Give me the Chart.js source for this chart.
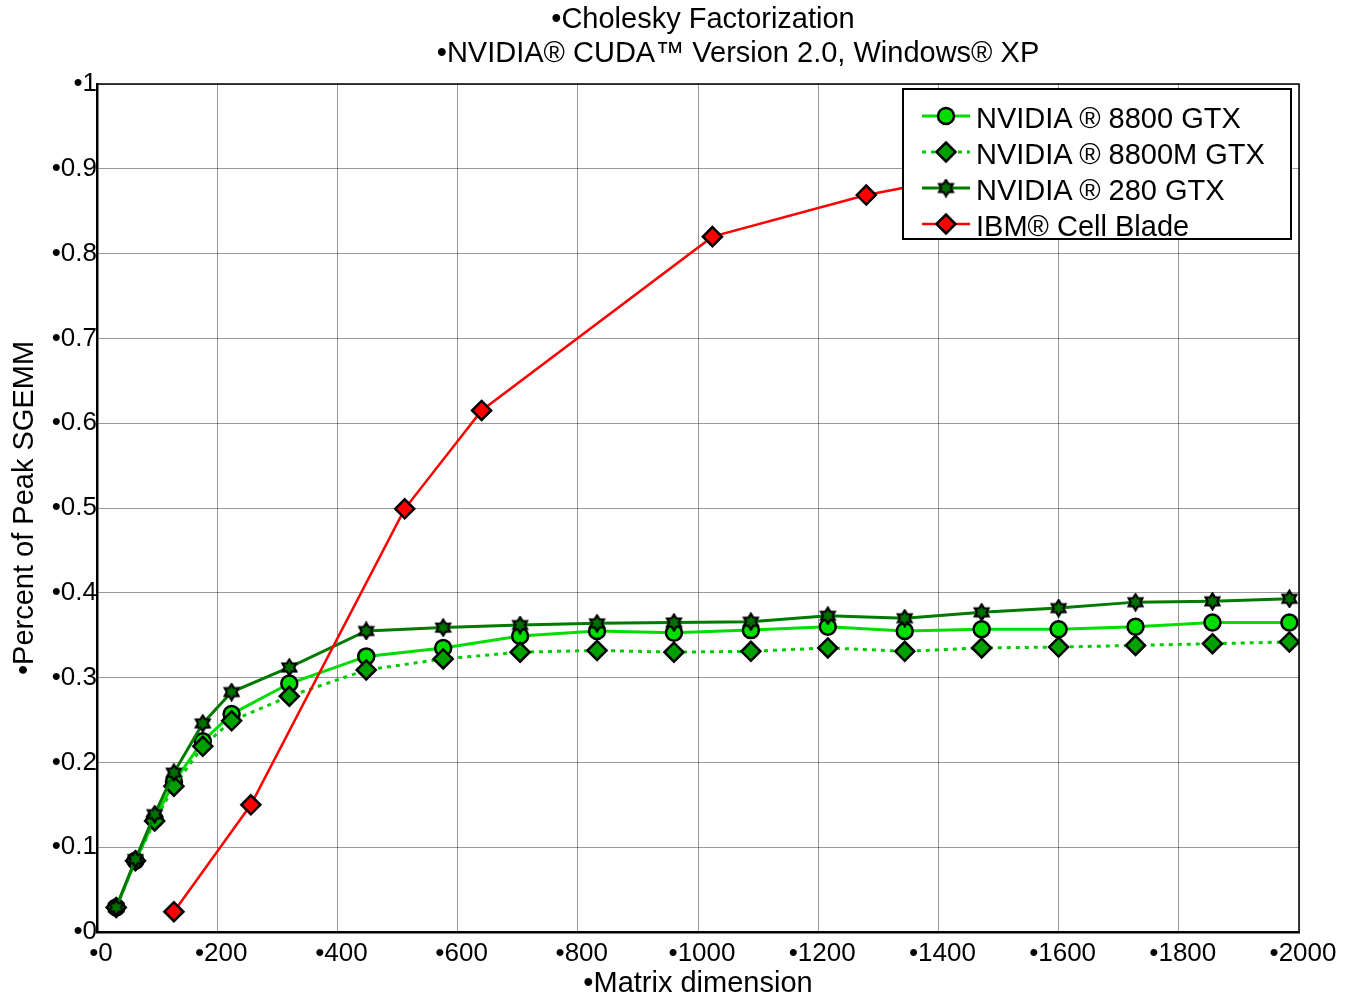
<!DOCTYPE html>
<html>
<head>
<meta charset="utf-8">
<script src="https://cdn.jsdelivr.net/npm/chart.js@4.4.0/dist/chart.umd.min.js"></script>
<style>
  body { margin: 0; background: #fff; }
  #wrap { position: relative; width: 1350px; height: 998px; }
  #legend { position: absolute; left: 902px; top: 88px; width: 390px; height: 152px; box-sizing: border-box;
            border: 2px solid #000; background: #fff; padding-top: 8px; }
  .row { display: flex; align-items: center; height: 36px; }
  .row canvas { margin-left: 16px; }
  .row span { margin-left: 4px; padding-top: 4px; font: 29px "Liberation Sans", Arial, sans-serif; color: #000; white-space: nowrap; }
</style>
</head>
<body>
<div id="wrap">
  <canvas id="chart" width="1350" height="998"></canvas>
  <div id="legend"></div>
</div>
<script>
const titleLines = ['•Cholesky Factorization', '•NVIDIA® CUDA™ Version 2.0, Windows® XP'];
const xTitle = '•Matrix dimension';
const yTitle = '•Percent of Peak SGEMM';
const seriesNames = ['NVIDIA ® 8800 GTX', 'NVIDIA ® 8800M GTX', 'NVIDIA ® 280 GTX', 'IBM® Cell Blade'];

const gpuSizes = [32, 64, 96, 128, 176, 224, 320, 448, 576, 704, 832, 960, 1088, 1216, 1344, 1472, 1600, 1728, 1856, 1984];
const gtx8800  = [0.029, 0.084, 0.133, 0.177, 0.225, 0.257, 0.293, 0.325, 0.335, 0.349, 0.355, 0.353, 0.356, 0.360, 0.355, 0.357, 0.357, 0.360, 0.365, 0.365];
const gtx8800m = [0.029, 0.084, 0.131, 0.172, 0.219, 0.249, 0.278, 0.309, 0.322, 0.330, 0.332, 0.330, 0.331, 0.335, 0.331, 0.335, 0.336, 0.338, 0.340, 0.342];
const gtx280   = [0.029, 0.086, 0.139, 0.188, 0.246, 0.283, 0.312, 0.355, 0.359, 0.362, 0.364, 0.365, 0.366, 0.373, 0.370, 0.377, 0.382, 0.389, 0.390, 0.393];
const cellSizes = [128, 256, 512, 640, 1024, 1280, 1536];
const cellBlade = [0.024, 0.150, 0.499, 0.615, 0.820, 0.869, 0.904];

const FONT = '"Liberation Sans", Arial, sans-serif';

function pts(xs, ys) { return xs.map((x, i) => ({ x: x, y: ys[i] })); }

// six point star marker used for the 280 GTX
function starCanvas(size, fill) {
  const c = document.createElement('canvas');
  c.width = c.height = size;
  const ctx = c.getContext('2d');
  const R = size / 2 - 1.5, r = R * 0.6, m = size / 2;
  ctx.beginPath();
  for (let i = 0; i < 12; i++) {
    const a = -Math.PI / 2 + i * Math.PI / 6;
    const rr = i % 2 ? r : R;
    ctx.lineTo(m + rr * Math.cos(a), m + rr * Math.sin(a));
  }
  ctx.closePath();
  ctx.fillStyle = fill; ctx.fill();
  ctx.lineWidth = 2.2; ctx.strokeStyle = '#000'; ctx.stroke();
  return c;
}

const star = starCanvas(19, '#007000');

const styles = [
  { color: '#00dd00', fill: '#00dd00', shape: 'circle', radius: 8, width: 3, dash: [] },
  { color: '#00cc00', fill: '#00a000', shape: 'rectRot', radius: 9.5, width: 3, dash: [4, 5] },
  { color: '#007a00', fill: '#007000', shape: star, radius: 8, width: 3, dash: [] },
  { color: '#ff0000', fill: '#ff0000', shape: 'rectRot', radius: 9.5, width: 2.5, dash: [] }
];
const seriesData = [pts(gpuSizes, gtx8800), pts(gpuSizes, gtx8800m), pts(gpuSizes, gtx280), pts(cellSizes, cellBlade)];
const drawOrder = [3, 2, 1, 0];

const datasets = seriesNames.map((name, i) => ({
  label: name,
  data: seriesData[i],
  borderColor: styles[i].color,
  borderWidth: styles[i].width,
  borderDash: styles[i].dash,
  pointStyle: styles[i].shape,
  pointRadius: styles[i].radius,
  pointBackgroundColor: styles[i].fill,
  pointBorderColor: '#000',
  pointBorderWidth: 2.5,
  tension: 0,
  order: drawOrder[i]
}));

const frame = {
  id: 'frame',
  beforeDatasetsDraw(chart) {
    const a = chart.chartArea, ctx = chart.ctx;
    ctx.save();
    ctx.strokeStyle = '#000';
    ctx.lineWidth = 1.5;
    ctx.beginPath();
    ctx.moveTo(a.left, a.top); ctx.lineTo(a.right, a.top); ctx.lineTo(a.right, a.bottom);
    ctx.stroke();
    ctx.restore();
  }
};

const headings = {
  id: 'headings',
  afterDraw(chart) {
    const ctx = chart.ctx;
    ctx.save();
    ctx.font = '29px ' + FONT;
    ctx.fillStyle = '#000';
    ctx.textAlign = 'center';
    ctx.textBaseline = 'middle';
    ctx.fillText(titleLines[0], 703, 20);
    ctx.fillText(titleLines[1], 738, 54);
    ctx.restore();
  }
};

const config = {
  type: 'line',
  data: { datasets: datasets },
  options: {
    responsive: false,
    animation: false,
    layout: { padding: { top: 84, right: 51, left: 0, bottom: 0 } },
    plugins: { legend: { display: false }, tooltip: { enabled: false } },
    scales: {
      x: {
        type: 'linear', min: 0, max: 2000,
        ticks: { stepSize: 200, padding: 6, labelOffset: 4, color: '#000', font: { family: FONT, size: 26 },
                 callback: v => '•' + v },
        grid: { color: 'rgba(0,0,0,0.4)', drawTicks: false },
        border: { color: '#000', width: 2.5 },
        title: { display: true, text: xTitle, color: '#000', font: { family: FONT, size: 29, lineHeight: 1 }, padding: 0 },
        afterFit(scale) { scale.height = 66; }
      },
      y: {
        min: 0, max: 1,
        ticks: { stepSize: 0.1, padding: 0, color: '#000', font: { family: FONT, size: 26 },
                 callback: v => '•' + Number(v.toFixed(1)) },
        grid: { color: 'rgba(0,0,0,0.4)', drawTicks: false },
        border: { color: '#000', width: 2.5 },
        title: { display: true, text: yTitle, color: '#000', font: { family: FONT, size: 29 }, padding: { top: 8, bottom: 0 } },
        afterFit(scale) { scale.width = 97; }
      }
    }
  },
  plugins: [frame, headings]
};

new Chart(document.getElementById('chart'), config);

// legend drawn inside the plot, as in the original figure
const legend = document.getElementById('legend');
seriesNames.forEach((name, i) => {
  const s = styles[i];
  const row = document.createElement('div');
  row.className = 'row';
  const c = document.createElement('canvas');
  c.width = 52; c.height = 36;
  const ctx = c.getContext('2d');
  ctx.strokeStyle = s.color; ctx.lineWidth = s.width; ctx.setLineDash(s.dash);
  ctx.beginPath(); ctx.moveTo(2, 18); ctx.lineTo(50, 18); ctx.stroke();
  ctx.setLineDash([]);
  ctx.fillStyle = s.fill; ctx.strokeStyle = '#000'; ctx.lineWidth = 2.5;
  if (s.shape === 'circle') {
    ctx.beginPath(); ctx.arc(26, 18, s.radius, 0, Math.PI * 2); ctx.fill(); ctx.stroke();
  } else if (s.shape === 'rectRot') {
    ctx.beginPath();
    ctx.moveTo(26 - s.radius, 18); ctx.lineTo(26, 18 - s.radius); ctx.lineTo(26 + s.radius, 18); ctx.lineTo(26, 18 + s.radius);
    ctx.closePath(); ctx.fill(); ctx.stroke();
  } else {
    ctx.drawImage(s.shape, 26 - s.shape.width / 2, 18 - s.shape.height / 2);
  }
  const t = document.createElement('span');
  t.textContent = name;
  row.appendChild(c); row.appendChild(t);
  legend.appendChild(row);
});
</script>
</body>
</html>
